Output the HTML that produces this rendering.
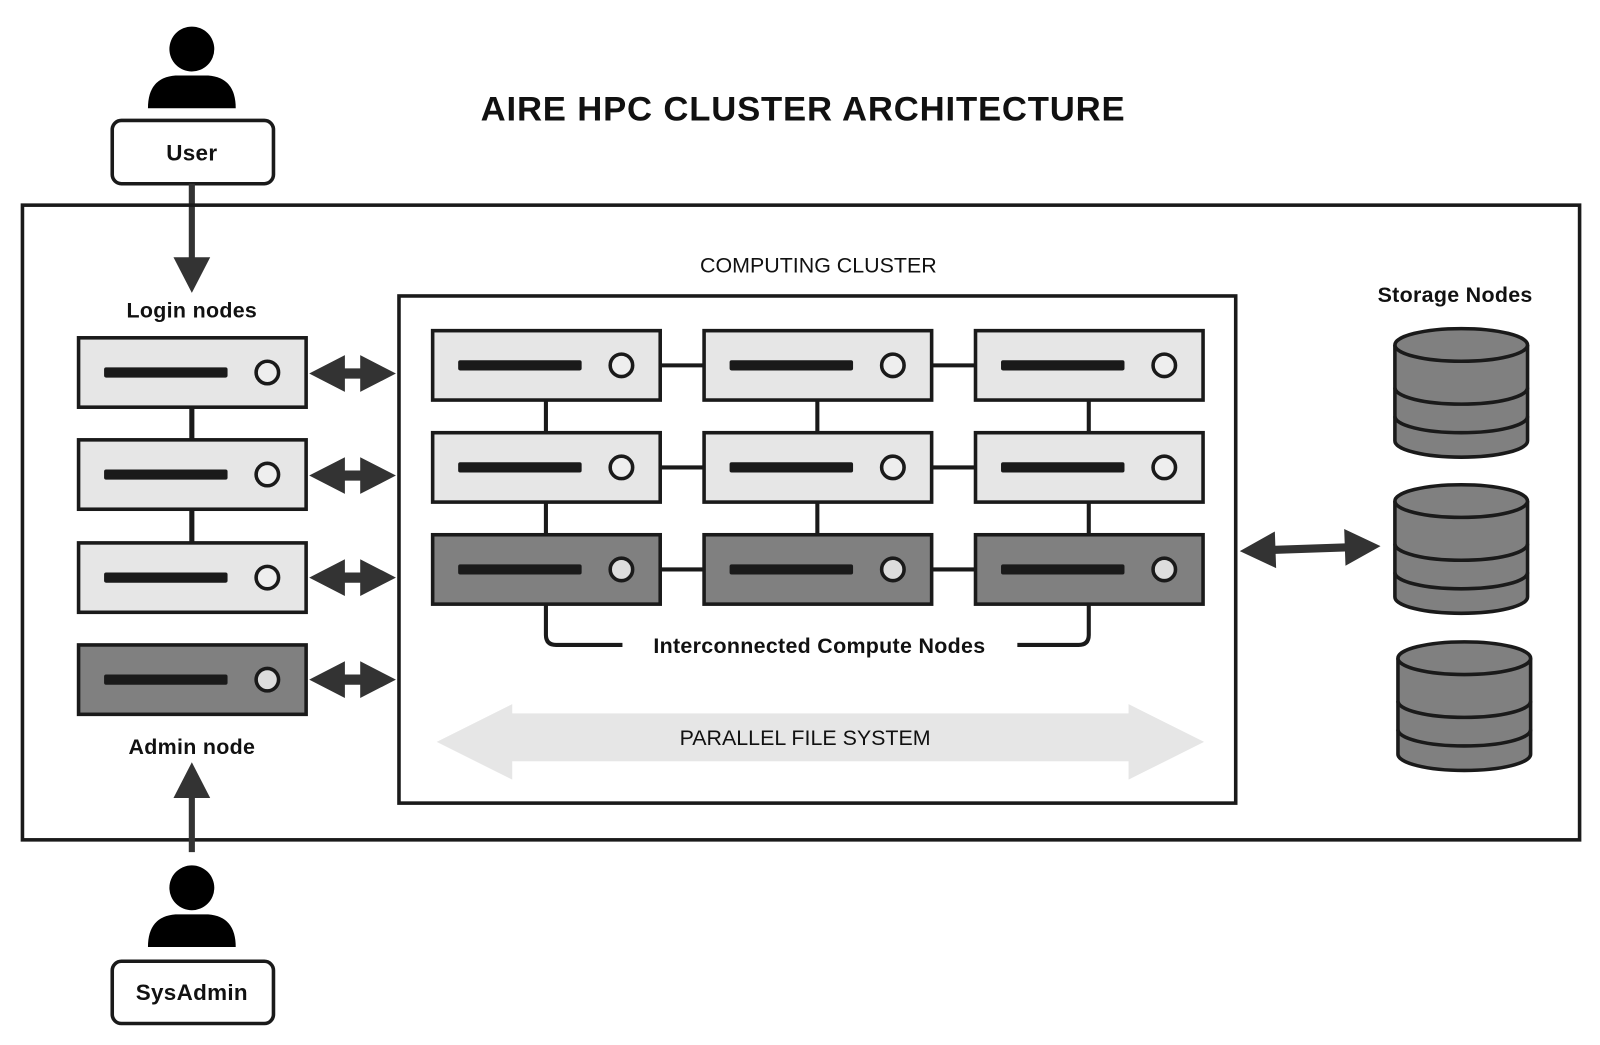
<!DOCTYPE html>
<html><head><meta charset="utf-8"><style>
html,body{margin:0;padding:0;background:#fff;width:1600px;height:1045px;overflow:hidden}
svg{display:block}
text{font-family:"Liberation Sans","DejaVu Sans",sans-serif;fill:#111}
.b{font-weight:bold;letter-spacing:0.3px}
</style></head><body>
<svg width="1600" height="1045" viewBox="0 0 1568 1024" xmlns="http://www.w3.org/2000/svg">
<defs>
<g id="srvL"><rect x="0" y="0" width="223" height="68" fill="#e6e6e6" stroke="#1a1a1a" stroke-width="3.5"/><rect x="25" y="29" width="121" height="10" rx="2" fill="#1a1a1a"/><circle cx="185" cy="34" r="11" fill="#eee" stroke="#1a1a1a" stroke-width="3.5"/></g>
<g id="srvD"><rect x="0" y="0" width="223" height="68" fill="#808080" stroke="#1a1a1a" stroke-width="3.5"/><rect x="25" y="29" width="121" height="10" rx="2" fill="#1a1a1a"/><circle cx="185" cy="34" r="11" fill="#ddd" stroke="#1a1a1a" stroke-width="3.5"/></g>
<g id="dbl"><polygon points="0,0 35,-18 35,-5 50,-5 50,-18 85,0 50,18 50,5 35,5 35,18" fill="#333"/></g>
<g id="cyl" stroke="#1a1a1a" stroke-width="3.5" fill="#808080">
<path d="M-65,16 L-65,110 A65,16 0 0 0 65,110 L65,16"/>
<path d="M-65,58 A65,16 0 0 0 65,58" fill="none"/>
<path d="M-65,86 A65,16 0 0 0 65,86" fill="none"/>
<ellipse cx="0" cy="16" rx="65" ry="16"/>
</g>
<g id="person"><circle cx="0" cy="0" r="22" fill="#000"/><path d="M-43,58 Q-43,28 -16,26 L16,26 Q43,28 43,58 Z" fill="#000"/></g>
</defs>

<text x="787" y="118" text-anchor="middle" font-size="34" class="b" style="letter-spacing:0.8px">AIRE HPC CLUSTER ARCHITECTURE</text>

<use href="#person" x="188" y="48"/>
<rect x="110" y="118" width="158" height="62" rx="9" fill="#fff" stroke="#1a1a1a" stroke-width="3.5"/>
<text x="188" y="157" text-anchor="middle" font-size="22" class="b">User</text>
<line x1="188" y1="180" x2="188" y2="255" stroke="#333" stroke-width="6"/>
<polygon points="170,252 206,252 188,287" fill="#333"/>

<rect x="22" y="201" width="1526" height="622" fill="none" stroke="#1a1a1a" stroke-width="3.5"/>

<text x="188" y="311" text-anchor="middle" font-size="21" class="b">Login nodes</text>
<line x1="188" y1="399" x2="188" y2="532" stroke="#1a1a1a" stroke-width="5"/>
<use href="#srvL" x="77" y="331"/>
<use href="#srvL" x="77" y="431"/>
<use href="#srvL" x="77" y="532"/>
<use href="#srvD" x="77" y="632"/>
<use href="#dbl" x="303" y="366"/>
<use href="#dbl" x="303" y="466"/>
<use href="#dbl" x="303" y="566"/>
<use href="#dbl" x="303" y="666"/>
<text x="188" y="739" text-anchor="middle" font-size="21" class="b">Admin node</text>
<line x1="188" y1="835" x2="188" y2="775" stroke="#333" stroke-width="6"/>
<polygon points="170,782 206,782 188,747" fill="#333"/>

<use href="#person" x="188" y="870"/>
<rect x="110" y="942" width="158" height="61" rx="9" fill="#fff" stroke="#1a1a1a" stroke-width="3.5"/>
<text x="188" y="980" text-anchor="middle" font-size="22" class="b">SysAdmin</text>

<text x="802" y="267" text-anchor="middle" font-size="21">COMPUTING CLUSTER</text>
<rect x="391" y="290" width="820" height="497" fill="none" stroke="#1a1a1a" stroke-width="3.5"/>

<g stroke="#1a1a1a" stroke-width="4" fill="none">
<line x1="535" y1="392" x2="535" y2="524"/><line x1="801" y1="392" x2="801" y2="524"/><line x1="1067" y1="392" x2="1067" y2="524"/>
<line x1="646" y1="358" x2="956" y2="358"/><line x1="646" y1="458" x2="956" y2="458"/><line x1="646" y1="558" x2="956" y2="558"/>
<path d="M535,592 L535,622 Q535,632 545,632 L610,632"/>
<path d="M997,632 L1057,632 Q1067,632 1067,622 L1067,592"/>
</g>
<use href="#srvL" x="424" y="324"/><use href="#srvL" x="690" y="324"/><use href="#srvL" x="956" y="324"/>
<use href="#srvL" x="424" y="424"/><use href="#srvL" x="690" y="424"/><use href="#srvL" x="956" y="424"/>
<use href="#srvD" x="424" y="524"/><use href="#srvD" x="690" y="524"/><use href="#srvD" x="956" y="524"/>
<text x="803" y="640" text-anchor="middle" font-size="21" class="b">Interconnected Compute Nodes</text>

<polygon points="428,727 502,690 502,699 1106,699 1106,690 1180,727 1106,764 1106,746 502,746 502,764" fill="#e6e6e6"/>
<text x="789" y="730" text-anchor="middle" font-size="21">PARALLEL FILE SYSTEM</text>

<g transform="translate(1215,540) rotate(-2)">
<polygon points="0,0 35,-18 35,-4 103,-4 103,-18 138,0 103,18 103,4 35,4 35,18" fill="#333"/>
</g>

<text x="1426" y="296" text-anchor="middle" font-size="21" class="b">Storage Nodes</text>
<use href="#cyl" x="1432" y="322"/>
<use href="#cyl" x="1432" y="475"/>
<use href="#cyl" x="1435" y="629"/>
</svg>
</body></html>
